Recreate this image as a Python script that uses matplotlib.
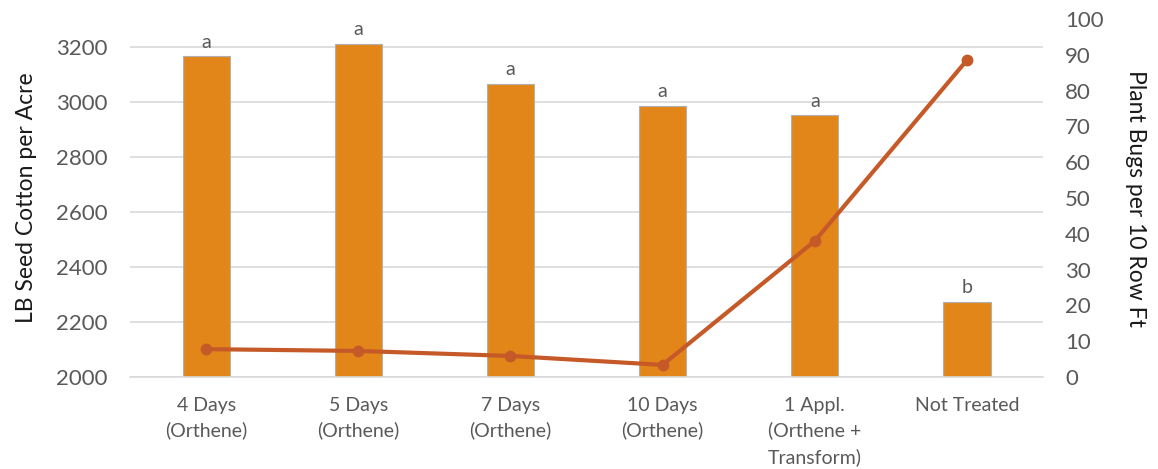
import matplotlib.pyplot as plt

plt.rcParams['font.family'] = ['Lato', 'DejaVu Sans']

# Treatments and measured values
treatments = ['4 Days\n(Orthene)', '5 Days\n(Orthene)', '7 Days\n(Orthene)',
              '10 Days\n(Orthene)', '1 Appl.\n(Orthene +\nTransform)', 'Not Treated']
seed_cotton = [3165, 3210, 3065, 2985, 2950, 2273]
plant_bugs = [7.8, 7.3, 5.9, 3.4, 38.0, 88.5]
letters = ['a', 'a', 'a', 'a', 'a', 'b']

bar_color = '#E3861A'
line_color = '#C55A28'
text_gray = '#595959'
grid_gray = '#D9D9D9'

fig = plt.figure(figsize=(11.58, 4.69), dpi=100)
ax = fig.add_axes([0.1123, 0.196, 0.7884, 0.7635])
x = list(range(len(treatments)))

bars = ax.bar(x, seed_cotton, width=0.31, color=bar_color,
              edgecolor='#B0B0B0', linewidth=0.8, zorder=2)
for rect, lab in zip(bars, letters):
    ax.annotate(lab, (rect.get_x() + rect.get_width() / 2, rect.get_height()),
                xytext=(0, 4), textcoords='offset points', ha='center', va='bottom',
                fontsize=14, color=text_gray)

ax.set_ylim(2000, 3300)
ax.set_yticks(range(2000, 3201, 200))
ax.set_xlim(-0.5, len(treatments) - 0.5)
ax.set_xticks(x)
ax.set_xticklabels(treatments, fontsize=14, color=text_gray, linespacing=1.55)
ax.yaxis.grid(True, color=grid_gray, linewidth=1.2, zorder=0)
ax.set_axisbelow(True)
for s in ['top', 'right', 'left']:
    ax.spines[s].set_visible(False)
ax.spines['bottom'].set_color(grid_gray)
ax.spines['bottom'].set_linewidth(1.2)
ax.tick_params(axis='both', length=0, colors=text_gray)
ax.tick_params(axis='x', labelsize=14, pad=14)
ax.tick_params(axis='y', labelsize=16, pad=16)
ax.set_ylabel('LB Seed Cotton per Acre', fontsize=16.5, color='#1a1a1a', labelpad=14)

ax2 = ax.twinx()
ax2.plot(x, plant_bugs, color=line_color, linewidth=3, marker='o',
         markersize=7.5, zorder=3)
ax2.set_ylim(0, 100)
ax2.set_yticks(range(0, 101, 10))
for s in ['top', 'right', 'left', 'bottom']:
    ax2.spines[s].set_visible(False)
ax2.tick_params(axis='y', length=0, labelsize=16, colors=text_gray, pad=16)
ax2.set_ylabel('Plant Bugs per 10 Row Ft', fontsize=16.5, color='#1a1a1a',
               rotation=270, labelpad=30)

fig.savefig('out.png', dpi=100)
